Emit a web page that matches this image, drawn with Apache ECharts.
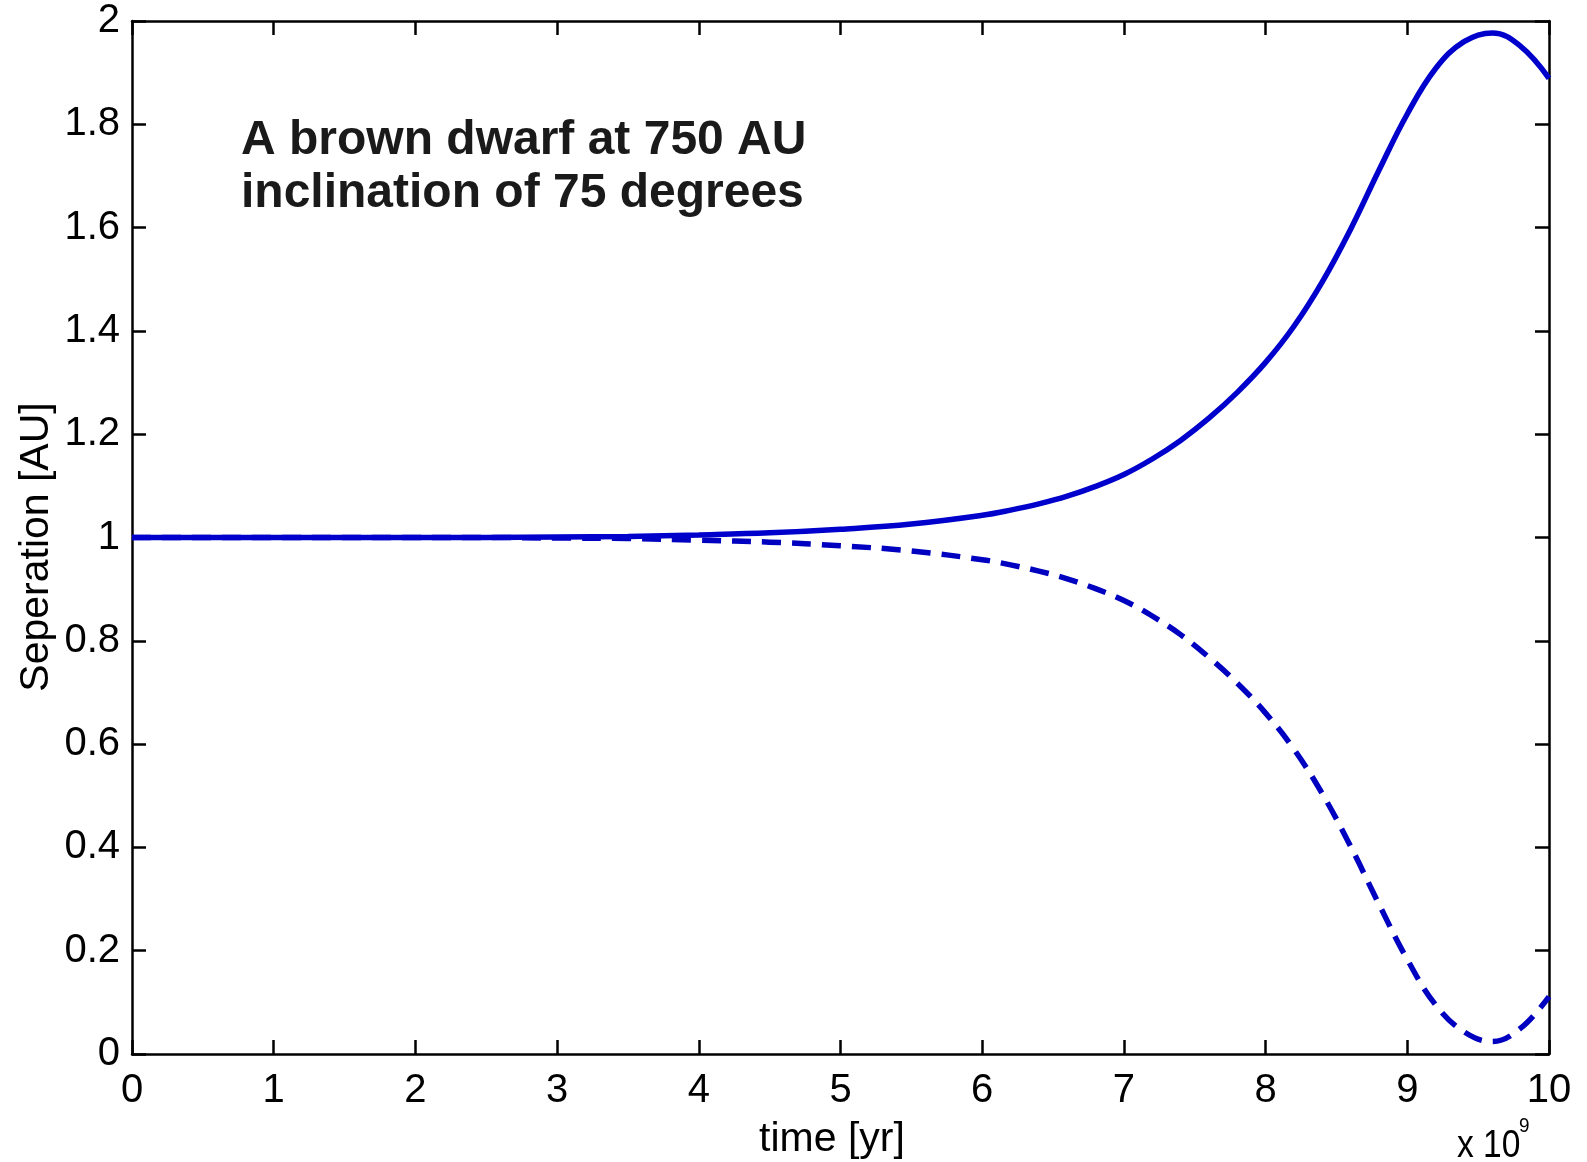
<!DOCTYPE html>
<html>
<head>
<meta charset="utf-8">
<script src="https://cdn.jsdelivr.net/npm/echarts@6/dist/echarts.min.js"></script>
<style>
html,body{margin:0;padding:0;background:#fff;}
#chart{width:1587px;height:1162px;}
</style>
</head>
<body>
<div id="chart"></div>
<script>
// time in units of 1e9 yr
var timeVals = [0, 0.5, 1, 1.5, 2, 2.5, 3, 3.5, 4, 4.5, 5, 5.5, 6, 6.2, 6.4, 6.6, 6.8, 7, 7.2, 7.4, 7.6, 7.8, 8, 8.2, 8.4, 8.6, 8.8, 9, 9.2, 9.4, 9.6, 9.8, 10];
// solid curve (upper)
var upperSep = [1, 1, 1, 1, 1, 1, 1.001, 1.002, 1.005, 1.009, 1.016, 1.026, 1.043, 1.053, 1.065, 1.080, 1.099, 1.122, 1.152, 1.188, 1.231, 1.281, 1.339, 1.409, 1.495, 1.597, 1.711, 1.820, 1.908, 1.960, 1.977, 1.951, 1.889];
// dashed curve (lower)
var lowerSep = [1, 1, 1, 1, 1, 1, 0.999, 0.998, 0.995, 0.991, 0.984, 0.974, 0.957, 0.947, 0.935, 0.920, 0.901, 0.878, 0.848, 0.812, 0.768, 0.718, 0.660, 0.590, 0.504, 0.402, 0.290, 0.183, 0.095, 0.043, 0.024, 0.050, 0.111];
var annotationLines = ['A brown dwarf at 750 AU', 'inclination of 75 degrees'];
var xLabel = 'time [yr]';
var yLabel = 'Seperation [AU]';

function pairs(xs, ys){ return xs.map(function(x,i){ return [x, ys[i]]; }); }

var FONT = '"Liberation Sans", Arial, Helvetica, sans-serif';
var chart = echarts.init(document.getElementById('chart'));
var axisLine = {show:true, onZero:false, lineStyle:{color:'#000', width:2.5}};
var tick = {show:true, inside:true, length:14, lineStyle:{color:'#000', width:2.5}};
var lbl = {color:'#000', fontSize:40, fontFamily:FONT};

chart.setOption({
  animation:false,
  backgroundColor:'#fff',
  grid:{left:132, right:38, top:21, bottom:108, containLabel:false},
  xAxis:[
    {type:'value', min:0, max:10, interval:1, position:'bottom',
     axisLine:axisLine, axisTick:tick, splitLine:{show:false},
     axisLabel:Object.assign({margin:17}, lbl)},
    {type:'value', min:0, max:10, interval:1, position:'top',
     axisLine:axisLine, axisTick:tick, splitLine:{show:false}, axisLabel:{show:false}}
  ],
  yAxis:[
    {type:'value', min:0, max:2, interval:0.2, position:'left',
     axisLine:axisLine, axisTick:tick, splitLine:{show:false},
     axisLabel:Object.assign({margin:12}, lbl)},
    {type:'value', min:0, max:2, interval:0.2, position:'right',
     axisLine:axisLine, axisTick:tick, splitLine:{show:false}, axisLabel:{show:false}}
  ],
  series:[
    {type:'line', data:pairs(timeVals, lowerSep), smooth:0.4, showSymbol:false,
     lineStyle:{color:'#0000c0', width:5.5, type:[19,11]}, z:2},
    {type:'line', data:pairs(timeVals, upperSep), smooth:0.4, showSymbol:false,
     lineStyle:{color:'#0000cc', width:5.5}, z:3}
  ],
  graphic:[
    {type:'text', left:241, top:117, style:{text:annotationLines[0], font:'bold 48px '+FONT, fill:'#1a1a1a'}},
    {type:'text', left:241, top:170, style:{text:annotationLines[1], font:'bold 48px '+FONT, fill:'#1a1a1a'}},
    {type:'text', x:832, y:1140, style:{text:xLabel, font:'41px '+FONT, fill:'#000', align:'center', verticalAlign:'middle'}},
    {type:'text', x:37, y:547, rotation:Math.PI/2, style:{text:yLabel, font:'41px '+FONT, fill:'#000', align:'center', verticalAlign:'middle'}},
    {type:'text', x:1457, y:1146, scaleX:0.86, style:{text:'x 10', font:'39px '+FONT, fill:'#000', align:'left', verticalAlign:'middle'}},
    {type:'text', x:1519, y:1126, scaleX:0.9, style:{text:'9', font:'21px '+FONT, fill:'#000', align:'left', verticalAlign:'middle'}}
  ]
});
</script>
</body>
</html>
